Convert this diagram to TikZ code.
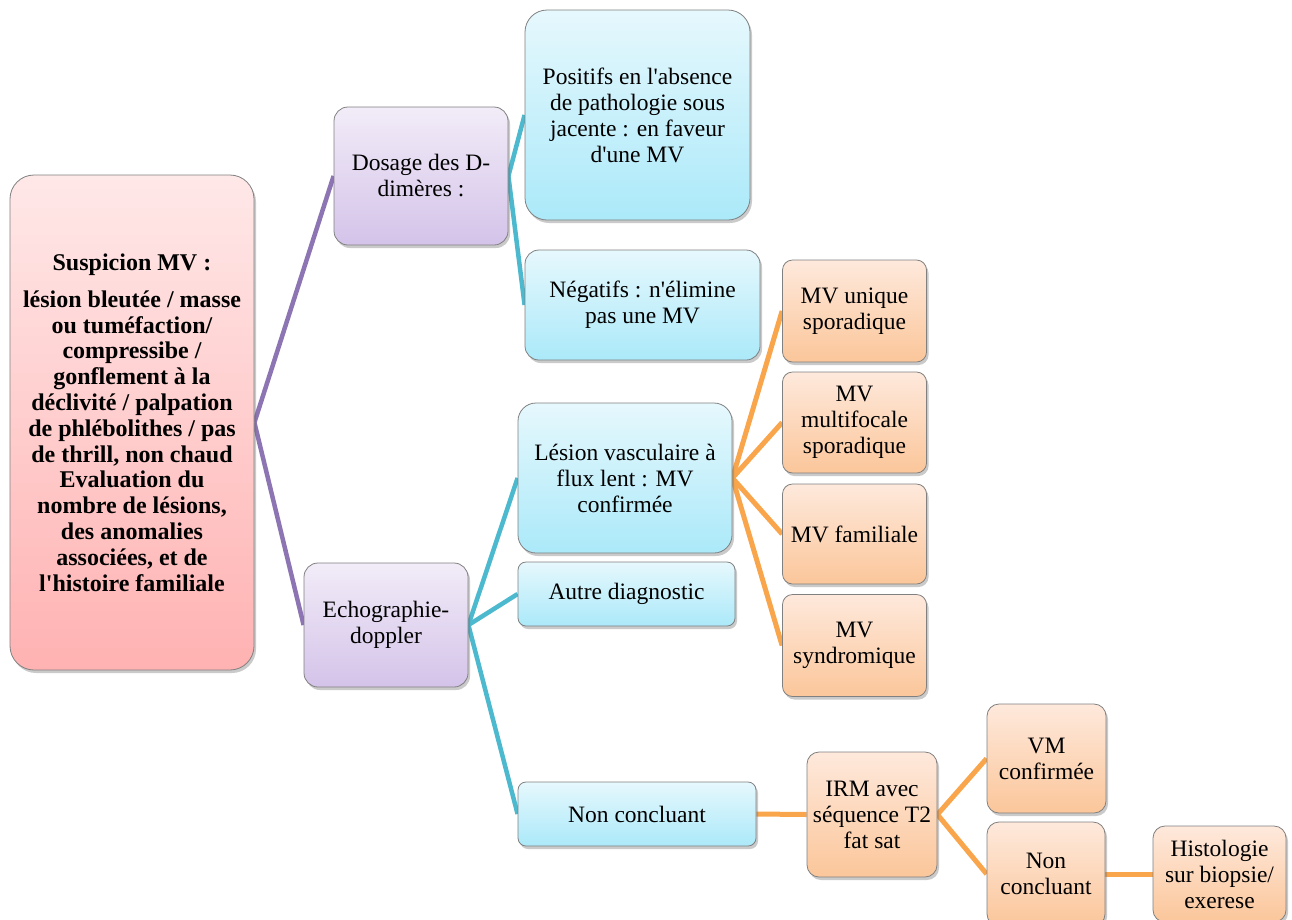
\documentclass[tikz,border=0pt]{standalone}
\usepackage{fontspec}
\setmainfont{Liberation Serif}
\usetikzlibrary{shadows}
\pgfdeclarelayer{bg}
\pgfsetlayers{bg,main}
\definecolor{purpT}{HTML}{F2ECF8}
\definecolor{purpB}{HTML}{D4C3E9}
\definecolor{blueT}{HTML}{E6F8FD}
\definecolor{blueB}{HTML}{ABE9F9}
\definecolor{oranT}{HTML}{FEE9DC}
\definecolor{oranB}{HTML}{FBC69A}
\definecolor{pinkT}{HTML}{FFE8E8}
\definecolor{pinkB}{HTML}{FFB2B2}
\definecolor{bord}{HTML}{808080}
\definecolor{lnPurp}{HTML}{8C75B2}
\definecolor{lnBlue}{HTML}{4DB9CF}
\definecolor{lnOran}{HTML}{F8A54C}
\newcommand{\aq}{\textquotesingle}
\tikzset{
  box/.style={draw=bord, line width=0.8pt, rounded corners=14pt, inner sep=0pt,
    align=center, font=\fontsize{23.5}{26}\selectfont,
    drop shadow={shadow xshift=2pt, shadow yshift=-3pt, opacity=0.35, fill=black!60}},
  pinkbox/.style={box, top color=pinkT, bottom color=pinkB, rounded corners=24pt,
    font=\fontsize{24}{25.8}\selectfont\bfseries},
  purpbox/.style={box, top color=purpT, bottom color=purpB},
  bluebox/.style={box, top color=blueT, bottom color=blueB},
  oranbox/.style={box, top color=oranT, bottom color=oranB},
  lp/.style={draw=lnPurp, line width=4.5pt},
  lb/.style={draw=lnBlue, line width=4.5pt},
  lo/.style={draw=lnOran, line width=5pt},
}
\begin{document}
\begin{tikzpicture}[x=1pt,y=-1pt]
\useasboundingbox (0,0) rectangle (1292,919);
\node[pinkbox, minimum width=244pt, minimum height=495pt] (root) at (132,422.5)
  {Suspicion MV :\\[11pt]lésion bleutée / masse\\ou tuméfaction/\\compressibe /\\gonflement à la\\déclivité / palpation\\de phlébolithes / pas\\de thrill, non chaud\\Evaluation du\\nombre de lésions,\\des anomalies\\associées, et de\\l\aq histoire familiale};
\node[purpbox, minimum width=174pt, minimum height=138pt] (dos) at (421,176) {Dosage des D-\\dimères :};
\node[purpbox, minimum width=164pt, minimum height=124pt] (echo) at (386,625) {Echographie-\\doppler};
\node[bluebox, minimum width=225pt, minimum height=210pt, rounded corners=22pt] (pos) at (637.5,115) {Positifs en l\aq absence\\de pathologie sous\\jacente : en faveur\\d\aq une MV};
\node[bluebox, minimum width=235pt, minimum height=110pt] (neg) at (642.5,305) {Négatifs : n\aq élimine\\pas une MV};
\node[bluebox, minimum width=214pt, minimum height=150pt, rounded corners=18pt] (les) at (625,478) {Lésion vasculaire à\\flux lent : MV\\confirmée};
\node[bluebox, minimum width=217pt, minimum height=64pt, rounded corners=8pt] (autre) at (626.5,594) {Autre diagnostic};
\node[bluebox, minimum width=238pt, minimum height=64pt, rounded corners=8pt] (nc1) at (637,814) {Non concluant};
\node[oranbox, minimum width=144pt, minimum height=102pt, rounded corners=10pt] (mv1) at (854.5,311) {MV unique\\sporadique};
\node[oranbox, minimum width=144pt, minimum height=101pt, rounded corners=10pt] (mv2) at (854.5,422.5) {MV\\multifocale\\sporadique};
\node[oranbox, minimum width=144pt, minimum height=100pt, rounded corners=10pt] (mv3) at (854.5,534) {MV familiale};
\node[oranbox, minimum width=144pt, minimum height=102pt, rounded corners=10pt] (mv4) at (854.5,645.5) {MV\\syndromique};
\node[oranbox, minimum width=130pt, minimum height=125pt, rounded corners=12pt] (irm) at (872,814.5) {IRM avec\\séquence T2\\fat sat};
\node[oranbox, minimum width=119pt, minimum height=109pt, rounded corners=12pt] (vm) at (1046.5,758.5) {VM\\confirmée};
\node[oranbox, minimum width=118pt, minimum height=104pt, rounded corners=12pt] (nc2) at (1046,874) {Non\\concluant};
\node[oranbox, minimum width=133pt, minimum height=96pt, rounded corners=12pt] (hist) at (1219.5,874) {Histologie\\sur biopsie/\\exerese};
\begin{pgfonlayer}{bg}
\draw[lp] (root.east) -- (dos.west);
\draw[lp] (root.east) -- (echo.west);
\draw[lb] (dos.east) -- (pos.west);
\draw[lb] (dos.east) -- (neg.west);
\draw[lb] (echo.east) -- (les.west);
\draw[lb] (echo.east) -- (autre.west);
\draw[lb] (echo.east) -- (nc1.west);
\draw[lo] (les.east) -- (mv1.west);
\draw[lo] (les.east) -- (mv2.west);
\draw[lo] (les.east) -- (mv3.west);
\draw[lo] (les.east) -- (mv4.west);
\draw[lo] (nc1.east) -- (irm.west);
\draw[lo] (irm.east) -- (vm.west);
\draw[lo] (irm.east) -- (nc2.west);
\draw[lo] (nc2.east) -- (hist.west);
\end{pgfonlayer}
\end{tikzpicture}
\end{document}
